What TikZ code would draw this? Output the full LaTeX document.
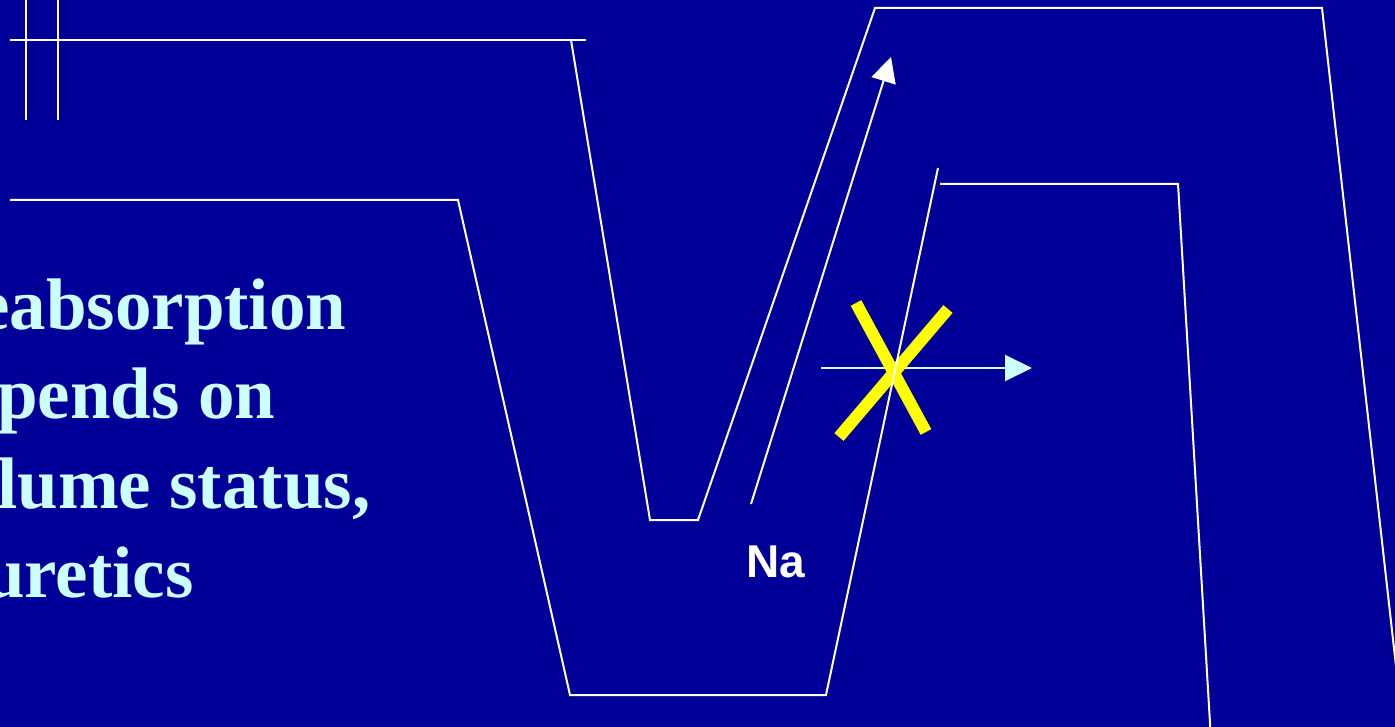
\documentclass[tikz,border=0pt]{standalone}
\usepackage{fontspec}
\setmainfont{Liberation Serif}
\newfontfamily\arialfont{Liberation Sans}
\usetikzlibrary{arrows.meta}
\definecolor{slidebg}{RGB}{0,0,153}
\definecolor{slidetxt}{RGB}{204,255,255}
\definecolor{slidex}{RGB}{255,255,0}
\tikzset{
  wall/.style={draw=white, line width=2pt, line join=miter},
  flow/.style={-{Triangle[length=25pt,width=25pt]}, draw=white, line width=2pt},
  leak/.style={-{Triangle[length=27pt,width=26pt]}, draw=slidetxt, line width=2pt},
  cross/.style={draw=slidex, line width=12pt},
  bullet/.style={anchor=base west, inner sep=0pt, text=slidetxt,
    font=\fontsize{73}{88}\selectfont\bfseries},
  ion/.style={anchor=base west, inner sep=0pt, text=white,
    font=\fontsize{46}{55}\selectfont\arialfont\bfseries}
}

\begin{document}
\begin{tikzpicture}[x=1pt, y=-1pt]
  \useasboundingbox (0,0) rectangle (1395,727);
  \fill[slidebg] (0,0) rectangle (1395,727);
  % back leak, blocked
  \coordinate (leakFrom) at (821,368);
  \coordinate (leakTo) at (1032,368);
  \draw[leak] (leakFrom) -- (leakTo);
  \draw[cross] (856,303) -- (926,432);
  \draw[cross] (948,309) -- (839,437);
  % corner marks
  \draw[wall] (26,0) -- (26,120);
  \draw[wall] (58,0) -- (58,120);
  \draw[wall] (10,40) -- (586,40);
  % tubule walls
  \draw[wall] (571,40) -- (650,520) -- (698,520) -- (875,8) -- (1322,8) -- (1397,675);
  \draw[wall] (10,200) -- (458,200) -- (570,695) -- (826,695) -- (938,168);
  \draw[wall] (940,184) -- (1178,184) -- (1211,740);
  % Na uptake
  \coordinate (naFrom) at (751,504);
  \coordinate (naTo) at (891,57);
  \draw[flow] (naFrom) -- (naTo);
  \node[ion] (na) at (746,577) {Na};
  % text
  \node[bullet] (l1) at (-23,330) {eabsorption};
  \node[bullet] (l2) at (-3,418) {pends on};
  \node[bullet] (l3) at (-3,508) {lume status,};
  \node[bullet] (l4) at (-16,597) {uretics};
\end{tikzpicture}
\end{document}
